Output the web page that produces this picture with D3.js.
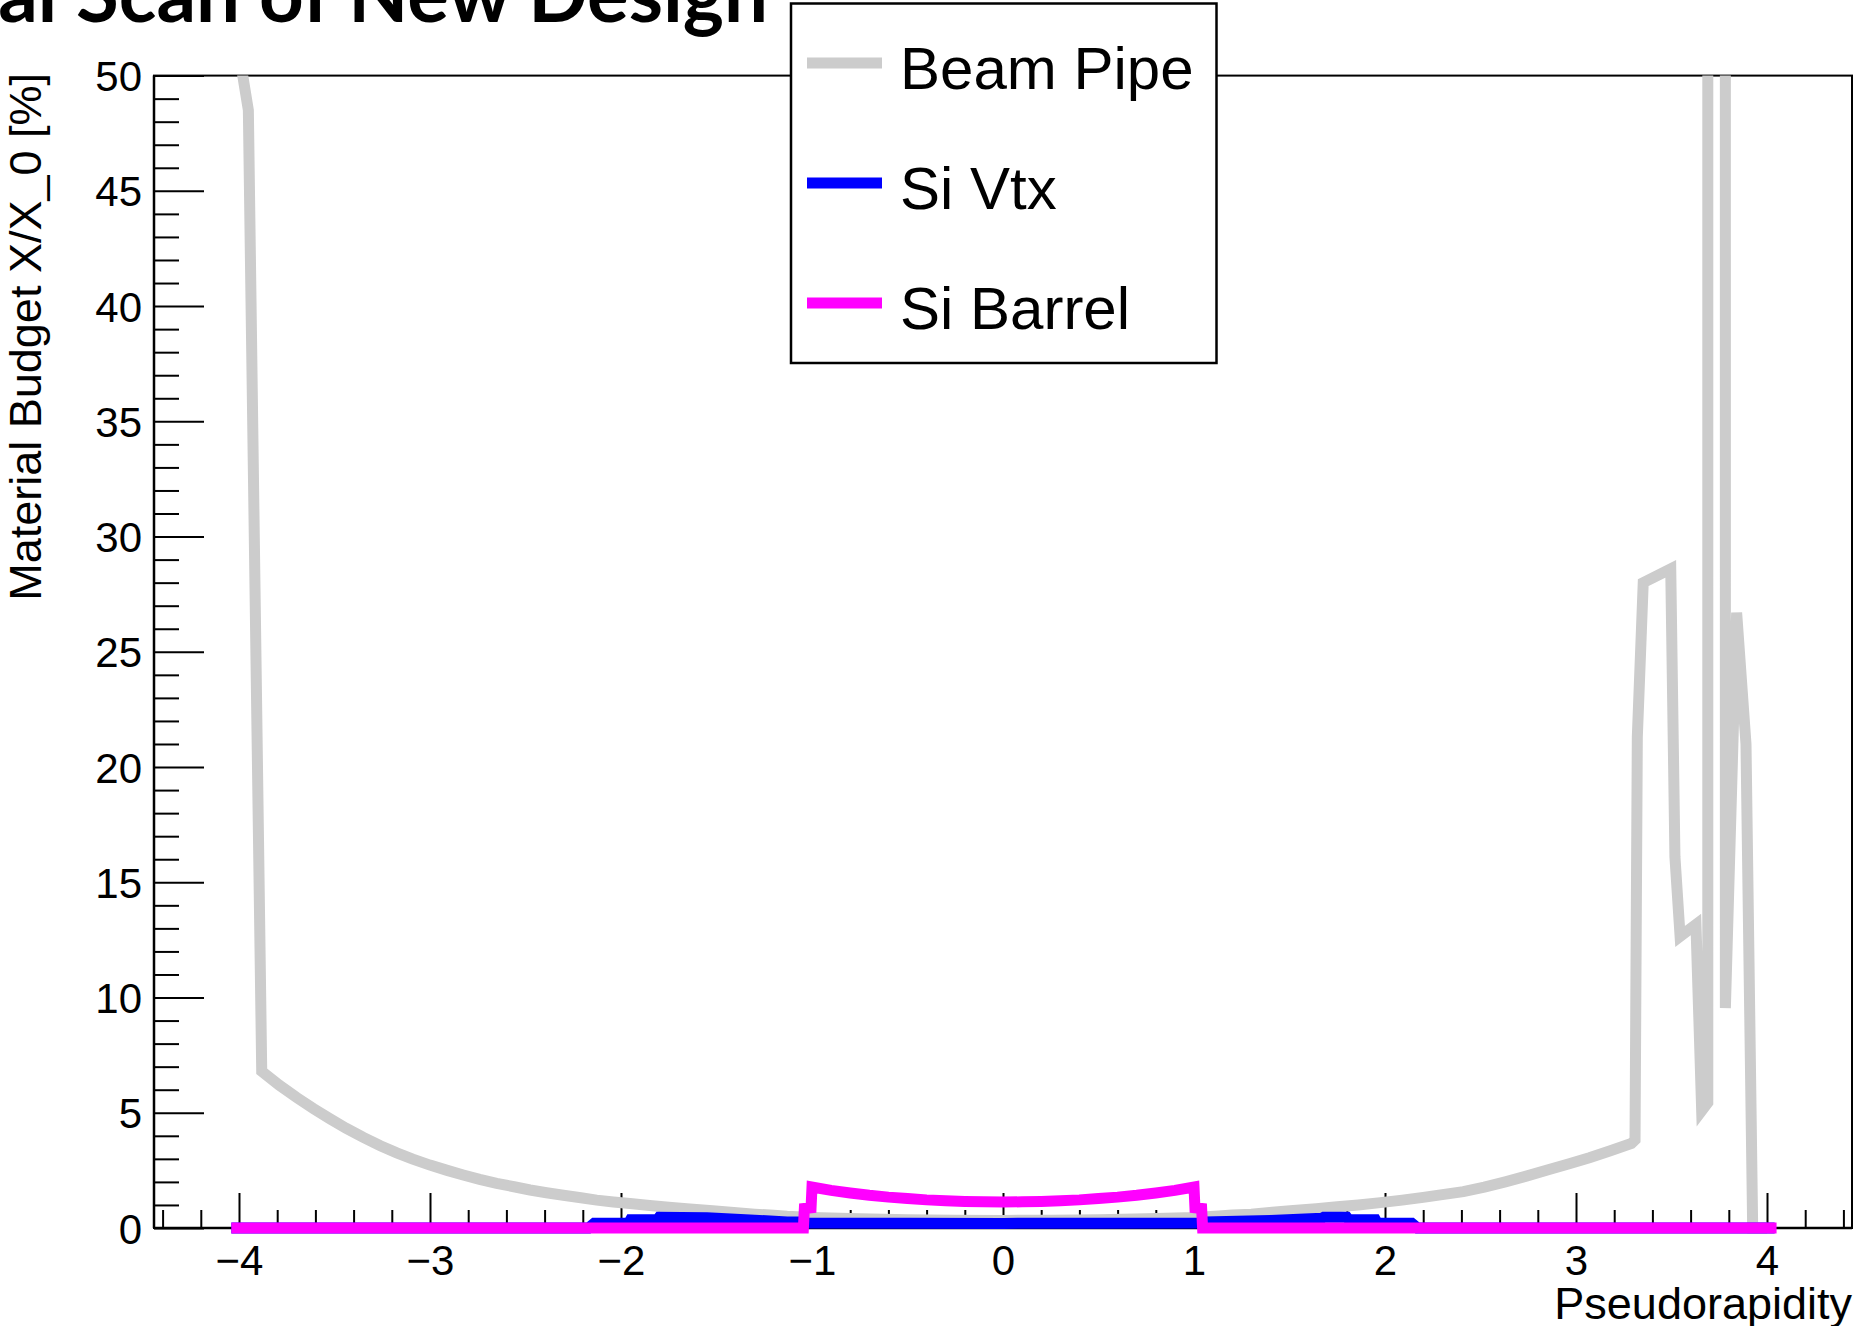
<!DOCTYPE html>
<html>
<head>
<meta charset="utf-8">
<script src="https://cdn.jsdelivr.net/npm/d3@7"></script>
<style>
  html, body { margin: 0; padding: 0; background: #fff; overflow: hidden; }
  svg { display: block; }
</style>
</head>
<body>
<svg id="chart" width="1853" height="1326"></svg>
<script>
// ---------------- data ----------------
const titleText = "Material Scan of New Design";
const xTitle = "Pseudorapidity";
const yTitle = "Material Budget X/X_0 [%]";
const seriesNames = ["Beam Pipe", "Si Vtx", "Si Barrel"];
const seriesColors = ["#cccccc", "#0000ff", "#ff00ff"];

const xMajorTicks = [-4, -3, -2, -1, 0, 1, 2, 3, 4];
const yMajorTicks = [0, 5, 10, 15, 20, 25, 30, 35, 40, 45, 50];

// Beam pipe
const beamEta = [-4.0, -3.951, -3.881, -3.79, -3.698, -3.61, -3.524, -3.44, -3.349, -3.26, -3.174, -3.09, -3.0,
  -2.91, -2.826, -2.74, -2.651, -2.56, -2.476, -2.39, -2.302, -2.21, -2.127, -2.04, -1.953, -1.85,
  -1.75, -1.64, -1.52, -1.41, -1.3, -1.2, -1.13, -1.0, -0.75, -0.5, -0.25, 0, 0.25, 0.5, 0.75, 1.0, 1.13, 1.2,
  1.3, 1.41, 1.52, 1.64, 1.75, 1.86, 1.976, 2.09, 2.2, 2.3, 2.41, 2.52, 2.63, 2.74, 2.85, 2.96, 3.07, 3.18, 3.29,
  3.309, 3.321, 3.352, 3.496, 3.518, 3.545, 3.628, 3.658, 3.690, 3.690,
  3.782, 3.782, 3.841, 3.890, 3.925, 4.0];
const beamVal = [51.0, 48.5, 6.8, 6.2, 5.66, 5.18, 4.74, 4.33, 3.93, 3.57, 3.26, 2.99, 2.73,
  2.5, 2.3, 2.11, 1.94, 1.79, 1.65, 1.53, 1.42, 1.31, 1.21, 1.13, 1.06, 0.98,
  0.9, 0.82, 0.75, 0.67, 0.6, 0.55, 0.51, 0.46, 0.4, 0.36, 0.34, 0.33, 0.34, 0.36, 0.4, 0.46, 0.52, 0.56,
  0.6, 0.68, 0.76, 0.84, 0.92, 1.0, 1.1, 1.21, 1.33, 1.45, 1.58, 1.77, 2.0, 2.25, 2.52, 2.78, 3.05, 3.35, 3.67,
  3.82, 21.3, 28.0, 28.6, 16.1, 12.65, 13.17, 5.09, 5.44, 60.0,
  60.0, 9.54, 26.7, 21.0, 0.0, 0.0];

// Si vertex
const vtxEta = [-4.04, -2.17, -2.14, -1.96, -1.95, -1.81, -1.80, -1.55, -1.3, -1.13, -1.06, -1.05, -0.5, 0, 0.5,
  1.05, 1.06, 1.4, 1.67, 1.68, 1.80, 1.81, 1.95, 1.96, 2.14, 2.17, 4.04];
const vtxVal = [0, 0, 0.21, 0.21, 0.36, 0.36, 0.47, 0.45, 0.34, 0.26, 0.26, 0.22, 0.21, 0.2, 0.21,
  0.22, 0.26, 0.33, 0.42, 0.47, 0.47, 0.36, 0.36, 0.21, 0.21, 0, 0];

// Si barrel
const barrelEta = [-4.04, -1.045, -1.04, -1.005, -1.0, -0.9, -0.8, -0.7, -0.6, -0.5, -0.4, -0.3, -0.2, -0.1, 0,
  0.1, 0.2, 0.3, 0.4, 0.5, 0.6, 0.7, 0.8, 0.9, 1.0, 1.005, 1.04, 1.045, 4.05];
const barrelVal = [0, 0, 0.85, 0.88, 1.78, 1.63, 1.52, 1.42, 1.34, 1.28, 1.22, 1.18, 1.15, 1.135, 1.13,
  1.135, 1.15, 1.18, 1.22, 1.28, 1.34, 1.42, 1.52, 1.63, 1.78, 0.88, 0.85, 0, 0];

// ---------------- drawing ----------------
const svg = d3.select("#chart");
const frame = { left: 154, right: 1852, top: 75.6, bottom: 1228 };

const x = d3.scaleLinear().domain([-4.445, 4.445]).range([frame.left, frame.right]);
const y = d3.scaleLinear().domain([0, 50]).range([frame.bottom, frame.top]);

const FONT = "'Liberation Sans', Arial, Helvetica, sans-serif";

// title (partly off-canvas, as in the reference)
const title = svg.append("text")
  .attr("x", 768).attr("y", 22)
  .attr("text-anchor", "end")
  .attr("font-family", "Lato, 'Open Sans', sans-serif")
  .attr("font-weight", 700)
  .attr("font-size", 80)
  .attr("fill", "#000")
  .text(titleText);
(function fitTitle() {
  const probe = svg.append("text")
    .attr("font-family", "Lato, 'Open Sans', sans-serif")
    .attr("font-weight", 700).attr("font-size", 80)
    .text("al Scan of New Design");
  const w = probe.node().getComputedTextLength();
  probe.remove();
  if (w > 0) title.attr("font-size", 80 * 770 / w);
})();

// clip region for data
svg.append("defs").append("clipPath").attr("id", "plotclip")
  .append("rect")
  .attr("x", frame.left - 20).attr("y", frame.top)
  .attr("width", frame.right - frame.left + 20)
  .attr("height", frame.bottom - frame.top + 20);

// frame
svg.append("rect")
  .attr("x", frame.left).attr("y", frame.top)
  .attr("width", frame.right - frame.left).attr("height", frame.bottom - frame.top)
  .attr("fill", "none").attr("stroke", "#000").attr("stroke-width", 2);

// x axis
const xMinor = d3.range(-44, 45, 2).map(d => d / 10).filter(d => !xMajorTicks.includes(d));
const gxMinor = svg.append("g").attr("transform", `translate(0,${frame.bottom})`)
  .call(d3.axisBottom(x).tickValues(xMinor).tickSize(-18).tickSizeOuter(0).tickFormat(""));
const gx = svg.append("g").attr("transform", `translate(0,${frame.bottom})`)
  .call(d3.axisBottom(x).tickValues(xMajorTicks).tickSize(-35).tickSizeOuter(0).tickPadding(17)
    .tickFormat(d3.format("d")));

// y axis
const yMinor = d3.range(1, 50).filter(d => d % 5 !== 0);
const gyMinor = svg.append("g").attr("transform", `translate(${frame.left},0)`)
  .call(d3.axisLeft(y).tickValues(yMinor).tickSize(-25).tickSizeOuter(0).tickFormat(""));
const gy = svg.append("g").attr("transform", `translate(${frame.left},0)`)
  .call(d3.axisLeft(y).tickValues(yMajorTicks).tickSize(-50).tickSizeOuter(0).tickPadding(12)
    .tickFormat(d3.format("d")));

[gxMinor, gx, gyMinor, gy].forEach(g => {
  g.select(".domain").remove();
  g.selectAll(".tick line").attr("stroke", "#000").attr("stroke-width", 2);
  g.selectAll("text").attr("font-family", FONT).attr("font-size", 42).attr("fill", "#000");
});
gy.selectAll("text").attr("dy", "0.36em");

// axis lines
svg.append("line").attr("x1", frame.left).attr("x2", frame.right)
  .attr("y1", frame.bottom).attr("y2", frame.bottom).attr("stroke", "#000").attr("stroke-width", 2.5);
svg.append("line").attr("x1", frame.left).attr("x2", frame.left)
  .attr("y1", frame.top).attr("y2", frame.bottom).attr("stroke", "#000").attr("stroke-width", 2.5);

// axis titles
svg.append("text")
  .attr("x", 1852).attr("y", 1319)
  .attr("text-anchor", "end")
  .attr("font-family", FONT).attr("font-size", 45).attr("fill", "#000")
  .text(xTitle);
svg.append("text")
  .attr("transform", "translate(41,73) rotate(-90)")
  .attr("text-anchor", "end")
  .attr("font-family", FONT).attr("font-size", 45).attr("fill", "#000")
  .text(yTitle);

// series
const series = [
  { eta: beamEta, val: beamVal },
  { eta: vtxEta, val: vtxVal },
  { eta: barrelEta, val: barrelVal }
];
const line = d3.line().x(d => x(d[0])).y(d => y(d[1]));
const plot = svg.append("g").attr("clip-path", "url(#plotclip)");
series.forEach((s, i) => {
  const pts = s.eta.map((e, k) => [e, s.val[k]]);
  plot.append("path")
    .datum(pts)
    .attr("d", line)
    .attr("fill", "none")
    .attr("stroke", seriesColors[i])
    .attr("stroke-width", 11)
    .attr("stroke-linejoin", "miter")
    .attr("stroke-miterlimit", 4)
    .attr("stroke-linecap", "butt");
});

// legend
const legend = svg.append("g");
legend.append("rect")
  .attr("x", 791).attr("y", 3.5).attr("width", 425.5).attr("height", 359.5)
  .attr("fill", "#fff").attr("stroke", "#000").attr("stroke-width", 2.5);
seriesNames.forEach((name, i) => {
  const cy = 63 + i * 120;
  legend.append("line")
    .attr("x1", 807).attr("x2", 882).attr("y1", cy).attr("y2", cy)
    .attr("stroke", seriesColors[i]).attr("stroke-width", 11);
  legend.append("text")
    .attr("x", 900).attr("y", 89 + i * 120)
    .attr("font-family", FONT).attr("font-size", 60).attr("fill", "#000")
    .text(name);
});
</script>
</body>
</html>
